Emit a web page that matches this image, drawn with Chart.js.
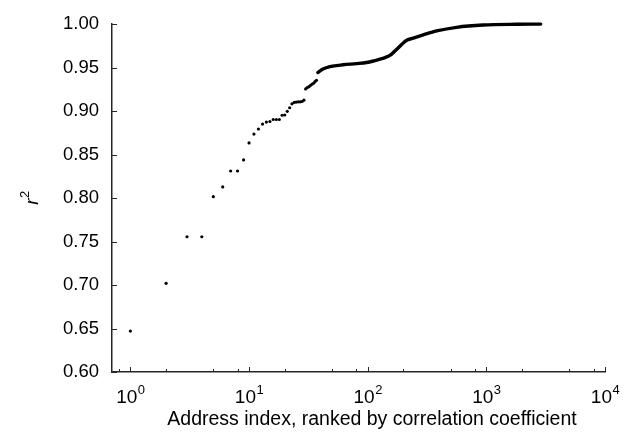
<!DOCTYPE html>
<html>
<head>
<meta charset="utf-8">
<script src="https://cdn.jsdelivr.net/npm/chart.js@4/dist/chart.umd.min.js"></script>
<style>
  html, body { margin: 0; padding: 0; background: #fff; }
  #wrap { width: 631px; height: 439px; }
</style>
</head>
<body>
<div id="wrap"><canvas id="c" width="631" height="439"></canvas></div>
<script>
// ---- data ----
// isolated points (rank index, r^2)
const sparseRank = [1, 2, 3, 4, 5, 6, 7, 8, 9, 10, 11, 12, 13, 14, 15, 16, 17, 18, 19, 20,
                    21, 22, 23, 24, 25, 26, 27, 28, 29, 30, 31, 32, 33, 34, 35, 36, 37];
const sparseR2   = [0.647, 0.702, 0.7555, 0.7555, 0.8016, 0.8128, 0.8311, 0.8311, 0.8438, 0.8634,
                    0.8735, 0.8794, 0.885, 0.8873, 0.888, 0.8903, 0.8903, 0.8903, 0.8952, 0.8955,
                    0.8997, 0.9038, 0.9083, 0.9100, 0.9103, 0.9106, 0.9106, 0.9110, 0.9125, 0.9255,
                    0.9270, 0.9280, 0.9296, 0.9310, 0.9320, 0.9340, 0.9353];
// dense part (reads as a continuous thick trace)
const denseRank = [38, 40, 42, 48, 62, 80, 98, 115, 127, 140, 154, 165, 181, 195, 210, 242,
                   294, 381, 562, 942, 1800, 2870];
const denseR2   = [0.9443, 0.9465, 0.9483, 0.951, 0.9532, 0.9545, 0.9558, 0.958, 0.9596, 0.9615,
                   0.964, 0.9675, 0.9727, 0.977, 0.9809, 0.9839, 0.9876, 0.9921, 0.9963, 0.9989,
                   0.9998, 1.0];

// axis ticks
const xMajorTicks = [1, 10, 100, 1000, 10000];
const xTickBase = '10';
const xTickExponents = ['0', '1', '2', '3', '4'];
const xMinorTicks = [0.8, 2, 5, 8, 20, 50, 80, 200, 500, 800, 2000, 5000, 8000];
const yMin = 0.60, yMax = 1.00, yStep = 0.05;
const xTitle = 'Address index, ranked by correlation coefficient';
const yTitleMain = 'r', yTitleSup = '2';

const FONT = '"Liberation Sans", Arial, Helvetica, sans-serif';

const sparsePts = sparseRank.map((r, i) => ({ x: r, y: sparseR2[i] }));
const densePts = denseRank.map((r, i) => ({ x: r, y: denseR2[i] }));

const decor = {
  id: 'decor',
  afterDraw(chart) {
    const ctx = chart.ctx;
    const xs = chart.scales.x, ys = chart.scales.y;
    const a = chart.chartArea;
    ctx.save();
    ctx.strokeStyle = '#262626';
    ctx.lineWidth = 1;
    ctx.beginPath();
    ys.ticks.forEach(t => {
      const py = Math.round(ys.getPixelForValue(t.value)) + 0.5;
      ctx.moveTo(a.left, py); ctx.lineTo(a.left + 5, py);
    });
    xMajorTicks.forEach(v => {
      const px = Math.round(xs.getPixelForValue(v)) + 0.5;
      ctx.moveTo(px, a.bottom); ctx.lineTo(px, a.bottom - 5);
    });
    xMinorTicks.forEach(v => {
      const px = Math.round(xs.getPixelForValue(v)) + 0.5;
      ctx.moveTo(px, a.bottom); ctx.lineTo(px, a.bottom - 3);
    });
    ctx.stroke();

    // x tick labels 10^n
    ctx.fillStyle = '#000';
    ctx.textBaseline = 'alphabetic';
    ctx.textAlign = 'left';
    xMajorTicks.forEach((v, k) => {
      const px = xs.getPixelForValue(v);
      ctx.font = '19px ' + FONT;
      const wb = ctx.measureText(xTickBase).width;
      ctx.font = '13px ' + FONT;
      const we = ctx.measureText(xTickExponents[k]).width;
      const x0 = px - (wb + we) / 2;
      ctx.font = '19px ' + FONT;
      ctx.fillText(xTickBase, x0, 403);
      ctx.font = '13px ' + FONT;
      ctx.fillText(xTickExponents[k], x0 + wb + 0.5, 394);
    });

    // x title
    ctx.font = '19.5px ' + FONT;
    ctx.textAlign = 'center';
    ctx.fillText(xTitle, 372, 425);

    // y title (rotated)
    ctx.translate(38, (a.top + a.bottom) / 2);
    ctx.rotate(-Math.PI / 2);
    ctx.font = 'italic 19px ' + FONT;
    const wr = ctx.measureText(yTitleMain).width;
    ctx.font = '13px ' + FONT;
    const w2 = ctx.measureText(yTitleSup).width;
    const s = -(wr + w2) / 2;
    ctx.textAlign = 'left';
    ctx.font = 'italic 19px ' + FONT;
    ctx.fillText(yTitleMain, s, 0);
    ctx.font = '13px ' + FONT;
    ctx.fillText(yTitleSup, s + wr + 0.5, -9);
    ctx.restore();
  }
};

new Chart(document.getElementById('c'), {
  type: 'scatter',
  data: {
    datasets: [
      {
        data: sparsePts,
        pointRadius: 1.6,
        pointHoverRadius: 1.6,
        pointBackgroundColor: '#000',
        pointBorderWidth: 0,
        showLine: false,
        clip: false
      },
      {
        data: densePts,
        showLine: true,
        borderColor: '#000',
        borderWidth: 3.4,
        pointRadius: 0,
        tension: 0.3,
        cubicInterpolationMode: 'monotone',
        borderCapStyle: 'round',
        clip: false
      }
    ]
  },
  options: {
    responsive: false,
    animation: false,
    devicePixelRatio: 1,
    layout: { padding: { top: 16, right: 26, left: 0, bottom: 0 } },
    plugins: { legend: { display: false }, tooltip: { enabled: false } },
    scales: {
      x: {
        type: 'logarithmic',
        min: 0.7,
        max: 10000,
        grid: { display: false, drawTicks: false },
        border: { display: true, color: '#262626', width: 1.5 },
        ticks: { display: false },
        afterFit(scale) { scale.height = 67; }
      },
      y: {
        type: 'linear',
        min: yMin,
        max: yMax,
        grid: { display: false, drawTicks: false },
        border: { display: true, color: '#262626', width: 1.5 },
        ticks: {
          stepSize: yStep,
          padding: 13,
          color: '#000',
          font: { family: FONT, size: 18.5 },
          callback: v => Number(v).toFixed(2)
        },
        afterFit(scale) { scale.width = 112; }
      }
    }
  },
  plugins: [decor]
});
</script>
</body>
</html>
